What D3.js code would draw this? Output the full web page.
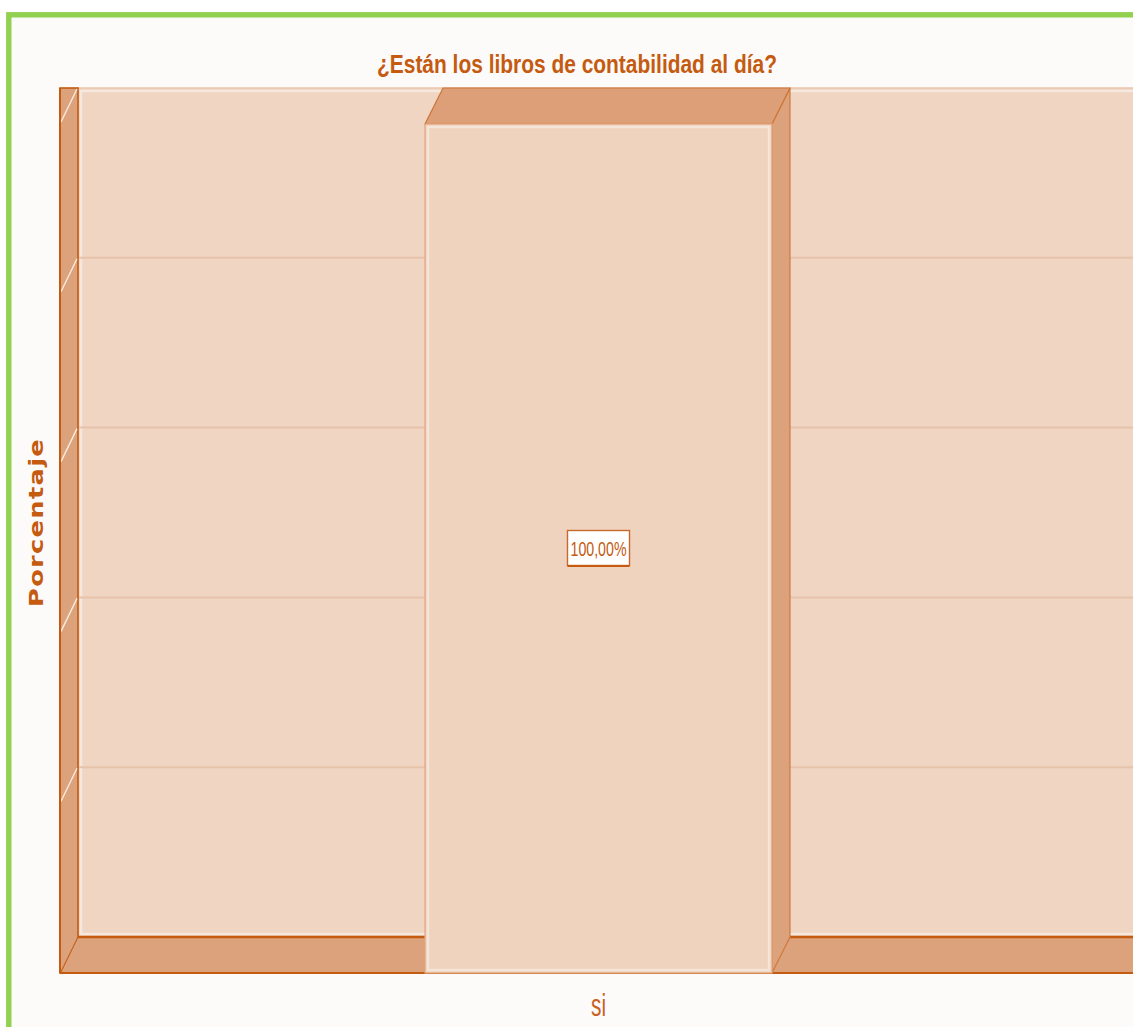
<!DOCTYPE html>
<html>
<head>
<meta charset="utf-8">
<title>¿Están los libros de contabilidad al día?</title>
<script src="https://d3js.org/d3.v7.min.js"></script>
<style>
  body { margin:0; background:#ffffff; }
  svg { display:block; }
  .title { font-family:"Liberation Sans Narrow", "Arial Narrow", sans-serif; font-weight:700; fill:#c55a11; }
  .y-label { font-family:"DejaVu Sans", Verdana, sans-serif; font-weight:700; fill:#c55a11; }
  .x-label { font-family:"Liberation Sans Narrow", "Arial Narrow", sans-serif; fill:#c9621f; }
  .value-label { font-family:"Liberation Sans Narrow", "Arial Narrow", sans-serif; fill:#c55a11; }
</style>
</head>
<body>
<script>
// data
var categories = ["si"];
var values = [100];
var valueLabels = ["100,00%"];
var yTicks = [0, 20, 40, 60, 80, 100];
var chartTitle = "¿Están los libros de contabilidad al día?";
var yTitle = "Porcentaje";

var W = 1133, H = 1027;
var depth = {dx: 18, dy: 36};   // 3d offset from front plane to back wall

var cWall = "#efd5c2", cSide = "#dca27b", cDark = "#c55a11", cGrid = "#e6c3aa";

var svg = d3.select("body").append("svg")
    .attr("width", W)
    .attr("height", H);

// green frame
svg.append("rect")
    .attr("x", 8.8).attr("y", 14.8)
    .attr("width", W + 20).attr("height", H + 20)
    .attr("fill", "#fcfbf9")
    .attr("stroke", "#92d050")
    .attr("stroke-width", 5.4);

// scales on the back wall plane
var y = d3.scaleLinear()
    .domain([0, 100])
    .range([937, 88]);

// front plane x
var x = d3.scaleBand()
    .domain(categories)
    .range([60, 1137])
    .paddingInner(0)
    .paddingOuter(1.052);

var xL = 60, xR = 1137;

// back wall
svg.append("rect")
    .attr("x", xL + depth.dx).attr("y", y(100))
    .attr("width", xR - xL).attr("height", y(0) - y(100))
    .attr("fill", cWall)
    .attr("stroke", "#e9c6ad")
    .attr("stroke-width", 1.5);
svg.append("rect")
    .attr("x", xL + depth.dx + 3).attr("y", y(100) + 3)
    .attr("width", xR - xL - 6).attr("height", y(0) - y(100) - 6)
    .attr("fill", "none")
    .attr("stroke", "#ffffff")
    .attr("stroke-opacity", 0.45)
    .attr("stroke-width", 2.5);

// grid lines
svg.append("g").selectAll("line")
    .data(yTicks.filter(d => d > 0 && d < 100))
    .enter().append("line")
    .attr("x1", xL + depth.dx).attr("x2", xR + depth.dx)
    .attr("y1", d => y(d)).attr("y2", d => y(d))
    .attr("stroke", cGrid)
    .attr("stroke-width", 2);

// left side wall
svg.append("rect")
    .attr("x", xL).attr("y", y(100))
    .attr("width", depth.dx).attr("height", y(0) + depth.dy - y(100))
    .attr("fill", cSide)
    .attr("stroke", cDark)
    .attr("stroke-width", 1.6);

// tick marks on the side wall
svg.append("g").selectAll("line")
    .data(yTicks.filter(d => d > 0))
    .enter().append("line")
    .attr("x1", xL + depth.dx - 1).attr("y1", d => y(d) + 1)
    .attr("x2", xL + 1).attr("y2", d => y(d) + depth.dy - 2)
    .attr("stroke", "#fbeee4")
    .attr("stroke-width", 1.3);

// floor
var floorPts = [[xL, y(0) + depth.dy], [xL + depth.dx, y(0)], [xR + depth.dx, y(0)], [xR, y(0) + depth.dy]];
svg.append("polygon")
    .attr("points", floorPts.join(" "))
    .attr("fill", cSide)
    .attr("stroke", "#d98b57")
    .attr("stroke-width", 1);
svg.append("line")
    .attr("x1", xL + depth.dx).attr("x2", xR + depth.dx)
    .attr("y1", y(0)).attr("y2", y(0))
    .attr("stroke", cDark).attr("stroke-width", 2.4);
svg.append("line")
    .attr("x1", xL).attr("x2", xR)
    .attr("y1", y(0) + depth.dy).attr("y2", y(0) + depth.dy)
    .attr("stroke", cDark).attr("stroke-width", 2);
svg.append("line")
    .attr("x1", xL + depth.dx).attr("y1", y(0))
    .attr("x2", xL + 1).attr("y2", y(0) + depth.dy - 1)
    .attr("stroke", cDark).attr("stroke-width", 1);
svg.append("line")
    .attr("x1", xL).attr("x2", xL)
    .attr("y1", y(100)).attr("y2", y(0) + depth.dy)
    .attr("stroke", cDark).attr("stroke-width", 2);

// bars
var bars = svg.append("g").selectAll("g")
    .data(categories.map((c, i) => ({cat: c, v: values[i], label: valueLabels[i]})))
    .enter().append("g");

// right side face
bars.append("polygon")
    .attr("points", d => {
      var x1 = x(d.cat) + x.bandwidth();
      return [[x1, y(d.v) + depth.dy], [x1 + depth.dx, y(d.v)], [x1 + depth.dx, y(0)], [x1, y(0) + depth.dy]].join(" ");
    })
    .attr("fill", cSide)
    .attr("stroke", "#d07a40")
    .attr("stroke-width", 1.2);

// top face
bars.append("polygon")
    .attr("points", d => {
      var x0 = x(d.cat), x1 = x0 + x.bandwidth();
      return [[x0, y(d.v) + depth.dy], [x0 + depth.dx, y(d.v)], [x1 + depth.dx, y(d.v)], [x1, y(d.v) + depth.dy]].join(" ");
    })
    .attr("fill", "#dc9f77")
    .attr("stroke", "#cf7437")
    .attr("stroke-width", 1.2);

// front face
bars.append("rect")
    .attr("x", d => x(d.cat))
    .attr("y", d => y(d.v) + depth.dy)
    .attr("width", x.bandwidth())
    .attr("height", d => y(0) - y(d.v))
    .attr("fill", "#efd3bf")
    .attr("stroke", "#e2a57c")
    .attr("stroke-width", 1.2);
bars.append("rect")
    .attr("x", d => x(d.cat) + 3)
    .attr("y", d => y(d.v) + depth.dy + 3)
    .attr("width", x.bandwidth() - 6)
    .attr("height", d => y(0) - y(d.v) - 6)
    .attr("fill", "none")
    .attr("stroke", "#ffffff")
    .attr("stroke-opacity", 0.4)
    .attr("stroke-width", 2.5);

// value label box
var cy = d => (y(d.v) + y(0)) / 2 + depth.dy;
bars.append("rect")
    .attr("x", d => x(d.cat) + x.bandwidth() / 2 - 31)
    .attr("y", d => cy(d) - 18)
    .attr("width", 62).attr("height", 35)
    .attr("fill", "#ffffff")
    .attr("stroke", "#c9682b")
    .attr("stroke-width", 1.4);
bars.append("line")
    .attr("x1", d => x(d.cat) + x.bandwidth() / 2 - 31)
    .attr("x2", d => x(d.cat) + x.bandwidth() / 2 + 31)
    .attr("y1", d => cy(d) + 17.5).attr("y2", d => cy(d) + 17.5)
    .attr("stroke", cDark).attr("stroke-width", 2.2);
bars.append("text")
    .attr("class", "value-label")
    .attr("x", d => x(d.cat) + x.bandwidth() / 2)
    .attr("y", d => cy(d) + 7)
    .attr("text-anchor", "middle")
    .attr("font-size", 21)
    .attr("textLength", 56)
    .attr("lengthAdjust", "spacingAndGlyphs")
    .text(d => d.label);

// category axis labels
svg.append("g").selectAll("text")
    .data(categories)
    .enter().append("text")
    .attr("class", "x-label")
    .attr("x", d => x(d) + x.bandwidth() / 2)
    .attr("y", 1016)
    .attr("text-anchor", "middle")
    .attr("font-size", 32)
    .attr("textLength", 15)
    .attr("lengthAdjust", "spacingAndGlyphs")
    .text(d => d);

// title
svg.append("text")
    .attr("class", "title")
    .attr("x", 577)
    .attr("y", 73)
    .attr("text-anchor", "middle")
    .attr("font-size", 25)
    .attr("textLength", 400)
    .attr("lengthAdjust", "spacingAndGlyphs")
    .text(chartTitle);

// y axis title (stretched along its length like the original)
svg.append("text")
    .attr("class", "y-label")
    .attr("transform", "translate(42.5,522.5) rotate(-90)")
    .attr("text-anchor", "middle")
    .attr("font-size", 20)
    .attr("textLength", 169)
    .attr("lengthAdjust", "spacingAndGlyphs")
    .style("letter-spacing", "1px")
    .text(yTitle);
</script>
</body>
</html>
